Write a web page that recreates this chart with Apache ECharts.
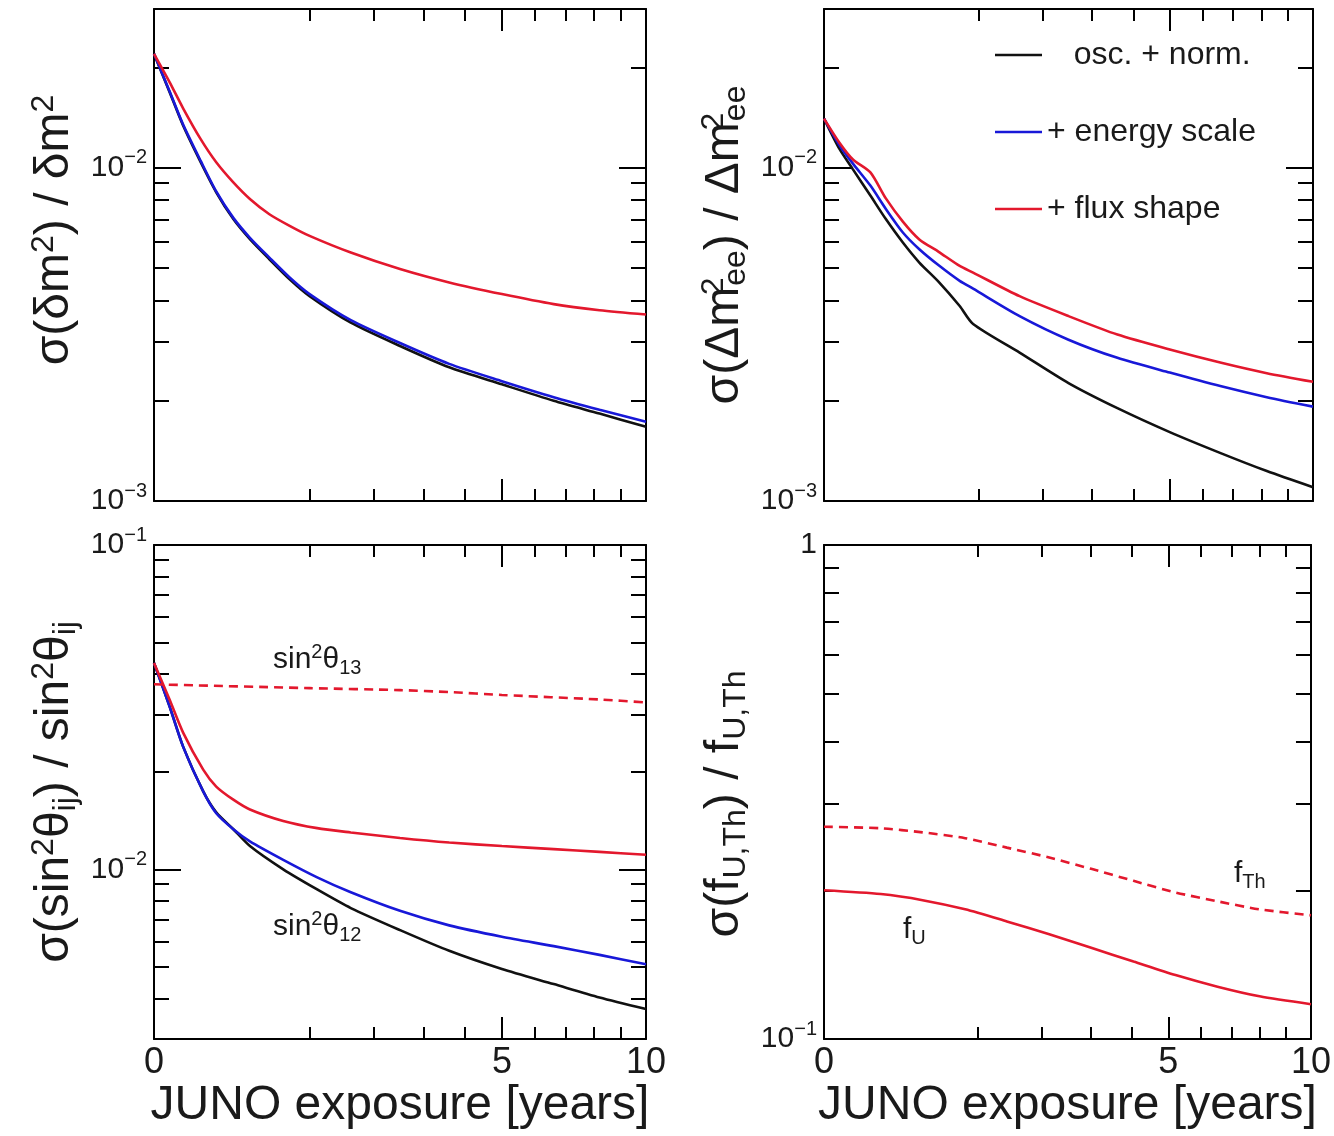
<!DOCTYPE html>
<html><head><meta charset="utf-8">
<script src="https://cdn.jsdelivr.net/npm/echarts@6/dist/echarts.min.js"></script>
<style>html,body{margin:0;padding:0;background:#fff}#c{width:1334px;height:1136px}</style>
</head><body><div id="c"></div>
<script>
// ---------------- data (x in years, y = relative precision) ----------------
const YEARS_TL = [0, 0.01, 0.035, 0.09, 0.16, 0.26, 0.38, 0.55, 0.76, 1.0, 1.6, 2.5, 3.6, 5, 6.6, 8.2, 10];
const TL_OSC     = [0.0220, 0.0169, 0.0134, 0.0104, 0.00845, 0.00702, 0.00611, 0.00532, 0.00463, 0.00412, 0.00343, 0.00292, 0.00252, 0.00224, 0.00200, 0.00183, 0.00167];
const TL_ESCALE  = [0.0220, 0.0170, 0.0135, 0.0105, 0.00850, 0.00708, 0.00617, 0.00538, 0.00469, 0.00418, 0.00349, 0.00298, 0.00258, 0.00229, 0.00205, 0.00188, 0.00173];
const TL_FLUX    = [0.0220, 0.0181, 0.0151, 0.0122, 0.0104, 0.00905, 0.00807, 0.00726, 0.00670, 0.00625, 0.00557, 0.00497, 0.00453, 0.00418, 0.00390, 0.00374, 0.00363];

const YEARS_TR = [0, 0.01, 0.035, 0.09, 0.16, 0.26, 0.38, 0.55, 0.77, 0.93, 1.6, 2.5, 3.6, 5, 6.6, 8.2, 10];
const TR_OSC     = [0.01406, 0.0114, 0.0099, 0.00826, 0.00702, 0.00597, 0.0052, 0.00455, 0.00385, 0.00340, 0.00279, 0.00226, 0.00190, 0.00161, 0.00139, 0.00123, 0.00110];
const TR_ESCALE  = [0.01406, 0.0117, 0.0103, 0.00885, 0.00753, 0.0064, 0.0057, 0.0051, 0.00458, 0.00434, 0.00359, 0.00305, 0.00269, 0.00243, 0.00221, 0.00205, 0.00192];
const TR_FLUX    = [0.01406, 0.0119, 0.0106, 0.0097, 0.0081, 0.0069, 0.0061, 0.0056, 0.00508, 0.00485, 0.00412, 0.00359, 0.00316, 0.00285, 0.00260, 0.00242, 0.00228];

const YEARS_BL = [0, 0.01, 0.035, 0.1, 0.16, 0.26, 0.38, 0.69, 1.1, 1.6, 2.5, 3.6, 5, 6.6, 8.2, 10];
const BL_OSC     = [0.0433, 0.0318, 0.0239, 0.0174, 0.0150, 0.0133, 0.0118, 0.0100, 0.00867, 0.0076, 0.0065, 0.00561, 0.00493, 0.00443, 0.00403, 0.00371];
const BL_ESCALE  = [0.0433, 0.0318, 0.0239, 0.0174, 0.0149, 0.0133, 0.0122, 0.0107, 0.00945, 0.0085, 0.00745, 0.00672, 0.00620, 0.00580, 0.00545, 0.0051];
const BL_FLUX    = [0.0433, 0.0334, 0.0264, 0.0203, 0.0180, 0.0164, 0.0153, 0.0141, 0.0134, 0.0130, 0.0125, 0.0121, 0.0118, 0.01155, 0.01132, 0.0111];
const YEARS_BL13 = [0, 1, 2.5, 3.6, 5, 8.2, 10];
const BL_TH13    = [0.0372, 0.0362, 0.0357, 0.0352, 0.0345, 0.0334, 0.0327];

const YEARS_BR = [0, 0.136, 0.41, 0.84, 1.41, 2.14, 3.01, 4.04, 5.21, 6.53, 8.0, 10];
const BR_FTH = [0.269, 0.267, 0.262, 0.255, 0.244, 0.233, 0.221, 0.209, 0.198, 0.190, 0.183, 0.178];
const BR_FU  = [0.200, 0.1965, 0.191, 0.183, 0.173, 0.163, 0.153, 0.1435, 0.1347, 0.1276, 0.122, 0.1176];

// tick values
const X_LABELS = [0, 5, 10];
const X_MAJOR = [5];
const X_MINOR = [1, 2, 3, 4, 6, 7, 8, 9];
const Y_RANGE_TOP = [0.001, 0.03];
const Y_RANGE_BL = [0.003, 0.1];
const Y_RANGE_BR = [0.1, 1];
const Y_LABELS_TOP = [0.001, 0.01];
const Y_LABELS_BL = [0.01, 0.1];
const Y_LABELS_BR = [0.1, 1];

const LEGEND_NAMES = ['osc. + norm.', '+ energy scale', '+ flux shape'];

// ---------------- styling ----------------
const FONT = 'Liberation Sans, Arial, Helvetica, sans-serif';
const TXT = '#1a1a1a';
const BLACK = '#111111', BLUE = '#1818d8', RED = '#e3182d';
const LW = 2.6;

const sq = v => Math.sqrt(v);
const lg = v => Math.log10(v);

function minorY(range) {
  const out = [];
  const lo = Math.floor(lg(range[0]) + 1e-9), hi = Math.ceil(lg(range[1]) - 1e-9);
  for (let n = lo; n < hi; n++) for (let k = 2; k <= 9; k++) {
    const v = k * Math.pow(10, n);
    if (v > range[0] * 1.0001 && v < range[1] * 0.9999) out.push(lg(v));
  }
  return out;
}

const titleRich = {
  m: {fontSize: 48, lineHeight: 54, fontFamily: FONT, color: TXT},
  s: {fontSize: 32, lineHeight: 32, verticalAlign: 'top', fontFamily: FONT, color: TXT},
  s0: {fontSize: 32, lineHeight: 32, verticalAlign: 'top', width: 1, fontFamily: FONT, color: TXT},
  b: {fontSize: 32, lineHeight: 32, verticalAlign: 'bottom', fontFamily: FONT, color: TXT}
};

const panels = [
  {grid: {left: 154, top: 9, width: 492, height: 492}, range: Y_RANGE_TOP, labels: Y_LABELS_TOP, bottom: false,
   title: '{m|σ(δm}{s|2}{m|) / δm}{s|2}', pad: [0, 0, 0, 50]},
  {grid: {left: 824, top: 9, width: 489, height: 492}, range: Y_RANGE_TOP, labels: Y_LABELS_TOP, bottom: false,
   title: '{m|σ(Δm}{s0|2}{b|ee}{m|) / Δm}{s0|2}{b|ee}', pad: [0, 0, 0, 20]},
  {grid: {left: 154, top: 545, width: 492, height: 494}, range: Y_RANGE_BL, labels: Y_LABELS_BL, bottom: true,
   title: '{m|σ(sin}{s|2}{m|θ}{b|ij}{m|) / sin}{s|2}{m|θ}{b|ij}', pad: [0, 0, 0, 0]},
  {grid: {left: 824, top: 545, width: 489, height: 494}, range: Y_RANGE_BR, labels: Y_LABELS_BR, bottom: true,
   title: '{m|σ(f}{b|U,Th}{m|) / f}{b|U,Th}', pad: [0, 24, 0, 0]}
];

const lineSt = {color: '#000', width: 2};
const xAxes = [], yAxes = [];
panels.forEach((p, g) => {
  const xb = {type: 'value', gridIndex: g, min: 0, max: sq(10), splitLine: {show: false}, silent: true, axisPointer: {show: false}};
  const lineOn = {show: true, onZero: false, lineStyle: lineSt};
  const lineOff = {show: false, onZero: false};
  xAxes.push(Object.assign({}, xb, {
    position: 'bottom',
    axisLine: lineOn,
    axisTick: {show: true, inside: true, length: 22, lineStyle: lineSt, customValues: X_MAJOR.map(sq)},
    axisLabel: {show: p.bottom, customValues: X_LABELS.map(sq), formatter: v => String(Math.round(v * v)),
      fontSize: 36, fontFamily: FONT, color: TXT, margin: 6},
    name: p.bottom ? 'JUNO exposure [years]' : '', nameLocation: 'middle', nameGap: 40,
    nameTextStyle: {fontSize: 48, fontFamily: FONT, color: TXT}
  }));
  xAxes.push(Object.assign({}, xb, {position: 'bottom', axisLine: lineOff,
    axisTick: {show: true, inside: true, length: 12, lineStyle: lineSt, customValues: X_MINOR.map(sq)}, axisLabel: {show: false}}));
  xAxes.push(Object.assign({}, xb, {position: 'top', axisLine: lineOn,
    axisTick: {show: true, inside: true, length: 22, lineStyle: lineSt, customValues: X_MAJOR.map(sq)}, axisLabel: {show: false}}));
  xAxes.push(Object.assign({}, xb, {position: 'top', axisLine: lineOff,
    axisTick: {show: true, inside: true, length: 12, lineStyle: lineSt, customValues: X_MINOR.map(sq)}, axisLabel: {show: false}}));

  const yb = {type: 'value', gridIndex: g, min: lg(p.range[0]), max: lg(p.range[1]), splitLine: {show: false}, silent: true, axisPointer: {show: false}};
  const majors = p.labels.map(lg);
  const minors = minorY(p.range);
  yAxes.push(Object.assign({}, yb, {
    position: 'left',
    axisLine: lineOn,
    axisTick: {show: true, inside: true, length: 27, lineStyle: lineSt, customValues: majors},
    axisLabel: {show: true, customValues: majors, margin: 7, fontSize: 30, lineHeight: 40, fontFamily: FONT, color: TXT,
      formatter: v => { const n = Math.round(v); return n === 0 ? '1' : '10{e|\u2212' + Math.abs(n) + '}'; },
      rich: {e: {fontSize: 20, lineHeight: 20, verticalAlign: 'top', fontFamily: FONT, color: TXT}}},
    name: p.title, nameLocation: 'middle', nameRotate: 90, nameGap: 72,
    nameTextStyle: {rich: titleRich, padding: p.pad}
  }));
  yAxes.push(Object.assign({}, yb, {position: 'left', axisLine: lineOff,
    axisTick: {show: true, inside: true, length: 15, lineStyle: lineSt, customValues: minors}, axisLabel: {show: false}}));
  yAxes.push(Object.assign({}, yb, {position: 'right', axisLine: lineOn,
    axisTick: {show: true, inside: true, length: 27, lineStyle: lineSt, customValues: majors}, axisLabel: {show: false}}));
  yAxes.push(Object.assign({}, yb, {position: 'right', axisLine: lineOff,
    axisTick: {show: true, inside: true, length: 15, lineStyle: lineSt, customValues: minors}, axisLabel: {show: false}}));
});

function pts(xs, ys) { return xs.map((x, i) => [sq(x), lg(ys[i])]); }
function line(name, g, xs, ys, color, dashed) {
  return {name: name, type: 'line', xAxisIndex: 4 * g, yAxisIndex: 4 * g, data: pts(xs, ys),
    showSymbol: false, symbol: 'none', smooth: 0.25, silent: true,
    lineStyle: {color: color, width: LW, type: dashed ? [9, 6] : 'solid'}, itemStyle: {color: color}};
}

const series = [
  line('TL osc', 0, YEARS_TL, TL_OSC, BLACK),
  line('TL escale', 0, YEARS_TL, TL_ESCALE, BLUE),
  line('TL flux', 0, YEARS_TL, TL_FLUX, RED),
  line(LEGEND_NAMES[0], 1, YEARS_TR, TR_OSC, BLACK),
  line(LEGEND_NAMES[1], 1, YEARS_TR, TR_ESCALE, BLUE),
  line(LEGEND_NAMES[2], 1, YEARS_TR, TR_FLUX, RED),
  line('BL osc', 2, YEARS_BL, BL_OSC, BLACK),
  line('BL escale', 2, YEARS_BL, BL_ESCALE, BLUE),
  line('BL flux', 2, YEARS_BL, BL_FLUX, RED),
  line('BL th13', 2, YEARS_BL13, BL_TH13, RED, true),
  line('BR fTh', 3, YEARS_BR, BR_FTH, RED, true),
  line('BR fU', 3, YEARS_BR, BR_FU, RED)
];

const annRich = {
  a: {fontSize: 30, lineHeight: 36, fontFamily: FONT, fill: TXT, color: TXT},
  s: {fontSize: 20, lineHeight: 20, verticalAlign: 'top', fontFamily: FONT, fill: TXT, color: TXT},
  b: {fontSize: 20, lineHeight: 20, verticalAlign: 'bottom', fontFamily: FONT, fill: TXT, color: TXT}
};
function ann(x, y, text) {
  return {type: 'text', left: x, top: y, silent: true, style: {text: text, rich: annRich, fill: TXT, font: '30px ' + FONT}};
}

const chart = echarts.init(document.getElementById('c'), null, {renderer: 'canvas'});
chart.setOption({
  animation: false,
  backgroundColor: '#ffffff',
  grid: panels.map(p => Object.assign({containLabel: false}, p.grid)),
  xAxis: xAxes,
  yAxis: yAxes,
  legend: {
    data: LEGEND_NAMES, left: 990, top: 32, orient: 'vertical', selectedMode: false,
    icon: 'rect', itemWidth: 47, itemHeight: 2.5, itemGap: 41,
    formatter: n => (n === LEGEND_NAMES[0] ? '   ' + n : n),
    textStyle: {fontSize: 32, lineHeight: 36, fontFamily: FONT, color: TXT}
  },
  graphic: [
    ann(273, 642, '{a|sin}{s|2}{a|θ}{b|13}'),
    ann(273, 909, '{a|sin}{s|2}{a|θ}{b|12}'),
    ann(1234, 859, '{a|f}{b|Th}'),
    ann(903, 915, '{a|f}{b|U}')
  ],
  series: series
});
</script>
</body></html>
